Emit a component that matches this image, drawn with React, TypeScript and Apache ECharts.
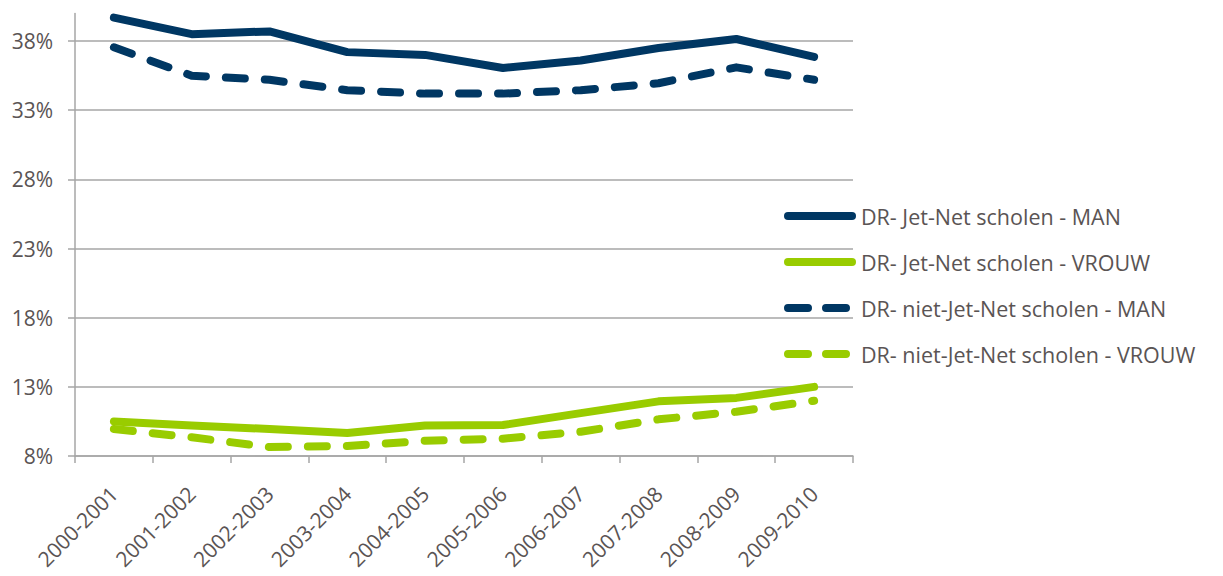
import React, { useEffect, useRef } from "react";
import * as echarts from "echarts";

const categories = [
  "2000-2001", "2001-2002", "2002-2003", "2003-2004", "2004-2005",
  "2005-2006", "2006-2007", "2007-2008", "2008-2009", "2009-2010",
];
const jetNetMan = [39.7, 38.5, 38.7, 37.2, 37.0, 36.05, 36.6, 37.5, 38.15, 36.85];
const jetNetVrouw = [10.5, 10.2, 9.95, 9.66, 10.2, 10.24, 11.1, 11.95, 12.2, 13.0];
const nietJetNetMan = [37.55, 35.5, 35.2, 34.45, 34.2, 34.2, 34.45, 34.95, 36.1, 35.2];
const nietJetNetVrouw = [9.95, 9.35, 8.65, 8.72, 9.1, 9.25, 9.75, 10.65, 11.2, 12.0];

const seriesNames = [
  "DR- Jet-Net scholen - MAN",
  "DR- Jet-Net scholen - VROUW",
  "DR- niet-Jet-Net scholen - MAN",
  "DR- niet-Jet-Net scholen - VROUW",
];

const NAVY = "#003763";
const GREEN = "#99CC00";
const TEXT = "#5a5454";
const AXIS = "#a6a6a6";
const FONT = "'Open Sans', sans-serif";
const DASH = [19, 20];

export default function App() {
  const ref = useRef<HTMLDivElement>(null);
  useEffect(() => {
    if (!ref.current) return;
    const chart = echarts.init(ref.current, null, { renderer: "svg" });
    const mk = (name: string, data: number[], color: string, dashed: boolean) => ({
      name,
      type: "line",
      data,
      symbol: "none",
      lineStyle: {
        color,
        width: 8,
        type: dashed ? DASH : "solid",
        cap: "round",
        join: "round",
      },
      itemStyle: { color },
    });
    const legendItem = (name: string, color: string, dashed: boolean) => ({
      name,
      itemStyle: { opacity: 0 },
      lineStyle: {
        color,
        width: 8,
        type: dashed ? [20, 18] : "solid",
        cap: "round",
      },
    });
    chart.setOption({
      animation: false,
      textStyle: { fontFamily: FONT },
      grid: { left: 75, right: 370, top: 13.4, bottom: 120, containLabel: false },
      legend: {
        orient: "vertical",
        left: 784,
        top: 205,
        padding: 0,
        itemWidth: 64,
        itemHeight: 14,
        itemGap: 24,
        data: [
          legendItem(seriesNames[0], NAVY, false),
          legendItem(seriesNames[1], GREEN, false),
          legendItem(seriesNames[2], NAVY, true),
          legendItem(seriesNames[3], GREEN, true),
        ],
        textStyle: { color: TEXT, fontSize: 21.5, fontFamily: FONT, padding: [0, 0, 0, 4] },
      },
      xAxis: {
        type: "category",
        data: categories,
        boundaryGap: true,
        axisLine: { lineStyle: { color: AXIS, width: 1.5 } },
        axisTick: { show: true, length: 7, lineStyle: { color: AXIS, width: 1.5 } },
        axisLabel: {
          rotate: 45,
          margin: 34,
          color: TEXT,
          fontSize: 21,
          fontFamily: FONT,
          interval: 0,
        },
      },
      yAxis: {
        type: "value",
        min: 8,
        max: 40,
        interval: 5,
        axisLine: { show: true, lineStyle: { color: AXIS, width: 1.5 } },
        axisTick: { show: true, length: 7, lineStyle: { color: AXIS, width: 1.5 } },
        axisLabel: {
          color: TEXT,
          fontSize: 21,
          fontFamily: FONT,
          margin: 22,
          showMaxLabel: false,
          formatter: (v: number) => `${v}%`,
        },
        splitLine: { show: true, showMaxLine: false, lineStyle: { color: AXIS, width: 1.5 } },
      },
      series: [
        mk(seriesNames[0], jetNetMan, NAVY, false),
        mk(seriesNames[1], jetNetVrouw, GREEN, false),
        mk(seriesNames[2], nietJetNetMan, NAVY, true),
        mk(seriesNames[3], nietJetNetVrouw, GREEN, true),
      ],
    });
    return () => chart.dispose();
  }, []);
  return (
    <div
      ref={ref}
      style={{ position: "fixed", left: 0, top: 0, width: 1223, height: 576, background: "#fff" }}
    />
  );
}
